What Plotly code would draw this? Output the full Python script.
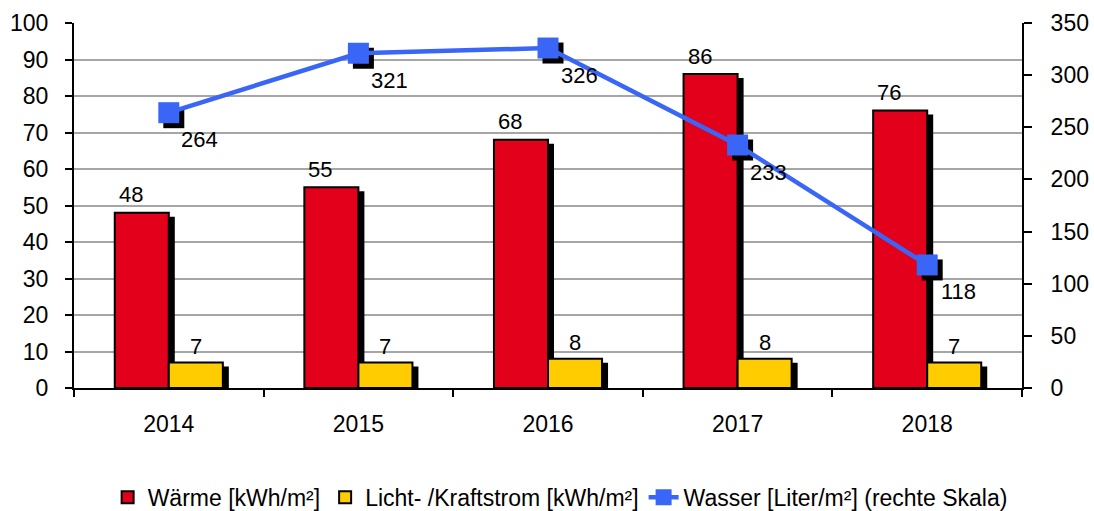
import plotly.graph_objects as go

# ---- data ----
years = ["2014", "2015", "2016", "2017", "2018"]
waerme = [48, 55, 68, 86, 76]
strom = [7, 7, 8, 8, 7]
wasser = [264, 321, 326, 233, 118]

name_waerme = "Wärme [kWh/m²]"
name_strom = "Licht- /Kraftstrom [kWh/m²]"
name_wasser = "Wasser [Liter/m²] (rechte Skala)"

# ---- style ----
RED = "#E2001A"
YELLOW = "#FFCC00"
BLUE = "#3A66F8"
GRID = "#A6A6A6"
FONT = "Liberation Sans"

# geometry (layout constants)
W = 0.285            # bar width in category units
PX_X = 189.6         # pixels per category unit
PX_Y = 3.65          # pixels per left-axis unit
PX_Y2 = 365 / 350    # pixels per right-axis unit
SHX = 6 / PX_X       # bar shadow shift x
SHY = 4 / PX_Y       # bar shadow shift y
MSX = 5 / PX_X       # marker shadow shift
MSY = 5 / PX_Y2

xi = list(range(len(years)))

fig = go.Figure()

# red shadow + red bar
fig.add_trace(go.Bar(x=xi, y=[v - SHY for v in waerme], width=W, offset=-W + SHX,
                     marker=dict(color="black", line=dict(width=0)),
                     showlegend=False, hoverinfo="skip"))
fig.add_trace(go.Bar(x=xi, y=waerme, width=W, offset=-W, name=name_waerme,
                     marker=dict(color=RED, line=dict(color="black", width=2))))
# yellow shadow + yellow bar
fig.add_trace(go.Bar(x=xi, y=[v - SHY for v in strom], width=W, offset=SHX,
                     marker=dict(color="black", line=dict(width=0)),
                     showlegend=False, hoverinfo="skip"))
fig.add_trace(go.Bar(x=xi, y=strom, width=W, offset=0, name=name_strom,
                     marker=dict(color=YELLOW, line=dict(color="black", width=2))))

# marker shadows
fig.add_trace(go.Scatter(x=[x + MSX for x in xi], y=[v - MSY for v in wasser], yaxis="y2",
                         mode="markers", marker=dict(symbol="square", size=21, color="black"),
                         showlegend=False, hoverinfo="skip"))
fig.add_trace(go.Scatter(x=xi, y=wasser, yaxis="y2", mode="lines+markers", name=name_wasser,
                         line=dict(color=BLUE, width=4.5),
                         marker=dict(symbol="square", size=21, color=BLUE)))

LBL = dict(family=FONT, size=22, color="black")
annotations = []
for i, v in enumerate(waerme):
    annotations.append(dict(x=i - W / 2, y=v, xref="x", yref="y", text=str(v), showarrow=False,
                            xshift=-11, yshift=18, font=LBL))
for i, v in enumerate(strom):
    annotations.append(dict(x=i + W / 2, y=v, xref="x", yref="y", text=str(v), showarrow=False,
                            xshift=0, yshift=16, font=LBL))
for i, v in enumerate(wasser):
    annotations.append(dict(x=i, y=v, xref="x", yref="y2", text=str(v), showarrow=False,
                            xshift=31, yshift=-27, font=LBL))

TICKF = dict(family=FONT, size=23, color="black")

fig.update_layout(
    width=1094, height=511,
    margin=dict(l=74, r=72, t=23, b=123, autoexpand=False),
    paper_bgcolor="white", plot_bgcolor="white",
    barmode="overlay",
    font=dict(family=FONT, size=20, color="black"),
    xaxis=dict(range=[-0.5, 4.5], tickvals=xi, ticktext=years, ticks="", showgrid=False,
               showline=True, linecolor="black", linewidth=2, zeroline=False,
               tickfont=TICKF, ticklabelstandoff=14, fixedrange=True, automargin=False),
    xaxis2=dict(range=[-0.5, 4.5], overlaying="x", side="bottom", anchor="y",
                tickvals=[-0.5, 0.5, 1.5, 2.5, 3.5, 4.5], ticks="outside", ticklen=8,
                tickwidth=2, tickcolor="black", showticklabels=False, showgrid=False,
                showline=False, zeroline=False),
    yaxis=dict(range=[0, 100], dtick=10, showgrid=True, gridcolor=GRID, gridwidth=2,
               showline=True, linecolor="black", linewidth=2, ticks="outside", ticklen=7,
               tickwidth=2, tickcolor="black", zeroline=False, tickfont=TICKF,
               ticklabelstandoff=12, automargin=False),
    yaxis2=dict(range=[0, 350], dtick=50, overlaying="y", side="right", showgrid=False,
                showline=True, linecolor="black", linewidth=2, ticks="outside", ticklen=8,
                tickwidth=2, tickcolor="black", zeroline=False, tickfont=TICKF,
                ticklabelstandoff=14, automargin=False),
    legend=dict(orientation="h", xref="container", x=0.512, xanchor="center",
                yref="container", y=0.027, yanchor="middle",
                font=dict(family=FONT, size=23), itemwidth=30, traceorder="normal",
                bgcolor="rgba(0,0,0,0)"),
    annotations=annotations,
    showlegend=True,
)

# invisible trace on xaxis2 so its category-boundary ticks render
fig.add_trace(go.Scatter(x=[0], y=[0], xaxis="x2", mode="markers",
                         marker=dict(opacity=0), showlegend=False, hoverinfo="skip"))

fig.write_html("out.html", config={"displayModeBar": False},
               post_script="document.body.style.margin='0';document.body.style.overflow='hidden';")
